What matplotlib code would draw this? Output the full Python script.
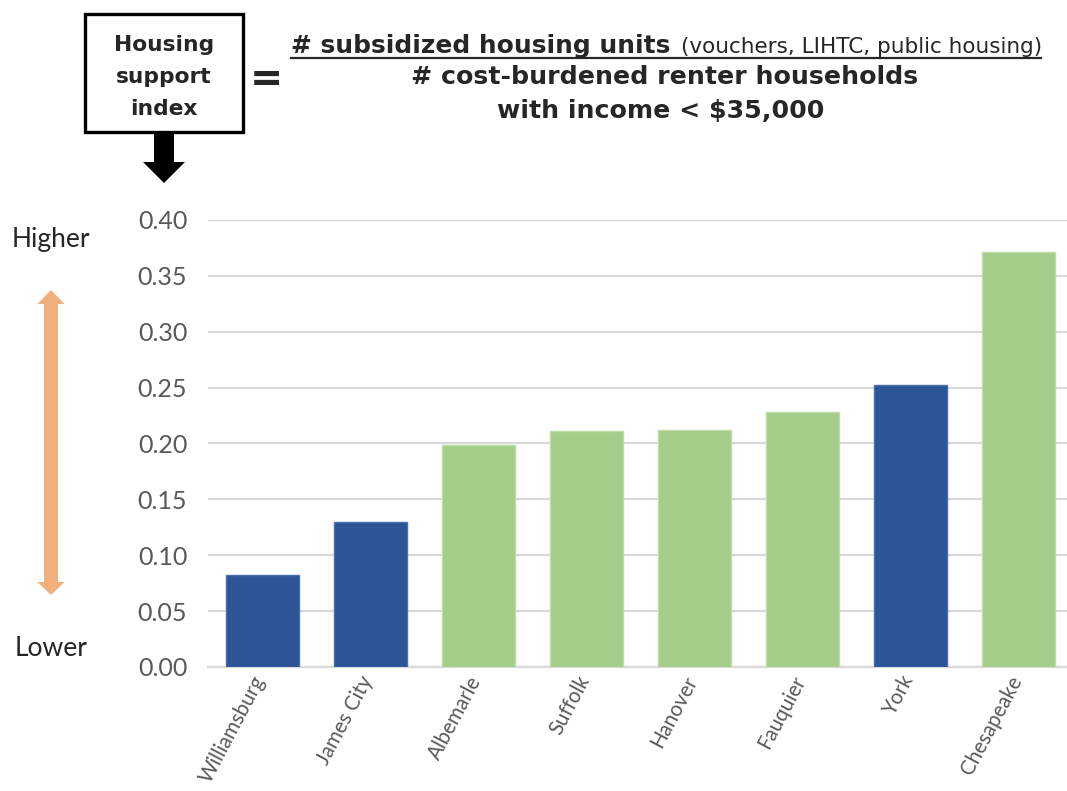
import matplotlib
matplotlib.use("Agg")
import matplotlib.pyplot as plt
from matplotlib.patches import Rectangle, Polygon
from matplotlib.lines import Line2D
from matplotlib.transforms import ScaledTranslation

# ---------------- data ----------------
localities = ["Williamsburg", "James City", "Albemarle", "Suffolk",
              "Hanover", "Fauquier", "York", "Chesapeake"]
index_values = [0.082, 0.130, 0.199, 0.211, 0.212, 0.228, 0.252, 0.371]
highlight = [True, True, False, False, False, False, True, False]
y_ticks = [0.00, 0.05, 0.10, 0.15, 0.20, 0.25, 0.30, 0.35, 0.40]

BLUE = "#2C5597"
BLUE_EDGE = "#4A6FAA"
GREEN = "#A6CE8B"
GREEN_EDGE = "#BEDDA9"
GRID = "#D9D9D9"
TICK_COL = "#595959"
DARK = "#262626"

W, H = 1067, 791
fig = plt.figure(figsize=(W / 100, H / 100), dpi=100)
fig.patch.set_facecolor("white")


def fx(px):
    return px / W


def fy(py):
    return 1 - py / H


# ---------------- axes ----------------
ax_left, ax_right = 208, 1067
ax_top, ax_bottom = 220, 667
ax = fig.add_axes([fx(ax_left), fy(ax_bottom), fx(ax_right - ax_left),
                   (ax_bottom - ax_top) / H])
spacing = 108.1
xs = list(range(len(localities)))
colors = [BLUE if h else GREEN for h in highlight]
edges = [BLUE_EDGE if h else GREEN_EDGE for h in highlight]
ax.bar(xs, index_values, width=0.675, color=colors, edgecolor=edges,
       linewidth=1.0, zorder=3)
ax.set_xlim(-0.5, -0.5 + (ax_right - ax_left) / spacing)
ax.set_ylim(0, 0.40)
ax.set_yticks(y_ticks)
ax.set_yticklabels([f"{v:.2f}" for v in y_ticks], fontfamily="Lato",
                   fontsize=18, color=TICK_COL)
ax.yaxis.grid(True, color=GRID, linewidth=1.6, zorder=0)
ax.set_axisbelow(True)
ax.tick_params(axis="y", length=0, pad=15)
ax.tick_params(axis="x", length=0, pad=4)
ax.set_xticks(xs)
ax.set_xticklabels(localities, rotation=62, ha="right", rotation_mode="default",
                   fontfamily="Lato", fontsize=14.8, color=TICK_COL)
shift = ScaledTranslation(7 / 100, 0, fig.dpi_scale_trans)
for lab in ax.get_xticklabels():
    lab.set_transform(lab.get_transform() + shift)
for s in ["top", "right", "left"]:
    ax.spines[s].set_visible(False)
ax.spines["bottom"].set_color(GRID)
ax.spines["bottom"].set_linewidth(1.6)

# ---------------- left annotation ----------------
fig.text(fx(51), fy(240), "Higher", ha="center", va="center",
         fontfamily="Lato", fontsize=19, color=DARK)
fig.text(fx(51), fy(648), "Lower", ha="center", va="center",
         fontfamily="Lato", fontsize=19, color=DARK)

ORANGE = "#F0B07E"
cx = 51
pts = [(cx, 290), (cx + 13.5, 304), (cx + 7, 304), (cx + 7, 582),
       (cx + 13.5, 582), (cx, 595), (cx - 13.5, 582), (cx - 7, 582),
       (cx - 7, 304), (cx - 13.5, 304)]
fig.patches.append(Polygon([(fx(a), fy(b)) for a, b in pts], closed=True,
                           transform=fig.transFigure, facecolor=ORANGE,
                           edgecolor="none"))

# ---------------- header box ----------------
fig.patches.append(Rectangle((fx(85), fy(132)), fx(158), (132 - 14) / H,
                             transform=fig.transFigure, facecolor="white",
                             edgecolor="black", linewidth=2.4))
renderer = fig.canvas.get_renderer()


def fit(t, target_px):
    w = t.get_window_extent(renderer).width
    t.set_fontsize(t.get_fontsize() * target_px / w)


bx = 164
t0 = fig.text(fx(bx), fy(51), "Housing", ha="center", va="baseline",
              fontfamily="DejaVu Sans", fontweight="bold", fontsize=15,
              color=DARK)
fit(t0, 100)
bsz = t0.get_fontsize()
fig.text(fx(bx), fy(83), "support", ha="center", va="baseline",
         fontfamily="DejaVu Sans", fontweight="bold", fontsize=bsz, color=DARK)
fig.text(fx(bx), fy(115), "index", ha="center", va="baseline",
         fontfamily="DejaVu Sans", fontweight="bold", fontsize=bsz, color=DARK)

# down arrow
dpts = [(bx - 10, 133), (bx + 10, 133), (bx + 10, 162), (bx + 21, 162),
        (bx, 183), (bx - 21, 162), (bx - 10, 162)]
fig.patches.append(Polygon([(fx(a), fy(b)) for a, b in dpts], closed=True,
                           transform=fig.transFigure, facecolor="black",
                           edgecolor="none"))

# equals sign
teq = fig.text(fx(266), fy(80), "=", ha="center", va="center",
               fontfamily="DejaVu Sans", fontweight="bold", fontsize=30,
               color=DARK)
fit(teq, 33)

# ---------------- formula ----------------
t1 = fig.text(fx(291), fy(53), "# subsidized housing units", ha="left",
              va="baseline", fontfamily="DejaVu Sans", fontweight="bold",
              fontsize=17, color=DARK)
fit(t1, 379)
tsz = t1.get_fontsize()
t1b = fig.text(fx(681), fy(53), "(vouchers, LIHTC, public housing)",
               ha="left", va="baseline", fontfamily="DejaVu Sans",
               fontsize=12, color=DARK)
fit(t1b, 359)
fig.lines.append(Line2D([fx(291), fx(1041)], [fy(58), fy(58)],
                        transform=fig.transFigure, color=DARK, linewidth=1.6))
t2 = fig.text(fx(665), fy(84), "# cost-burdened renter households",
              ha="center", va="baseline", fontfamily="DejaVu Sans",
              fontweight="bold", fontsize=tsz, color=DARK)
fit(t2, 507)
t3 = fig.text(fx(661), fy(118), "with income < $35,000",
              ha="center", va="baseline", fontfamily="DejaVu Sans",
              fontweight="bold", fontsize=t2.get_fontsize(), color=DARK)

fig.savefig("out.png", dpi=100, facecolor="white")
